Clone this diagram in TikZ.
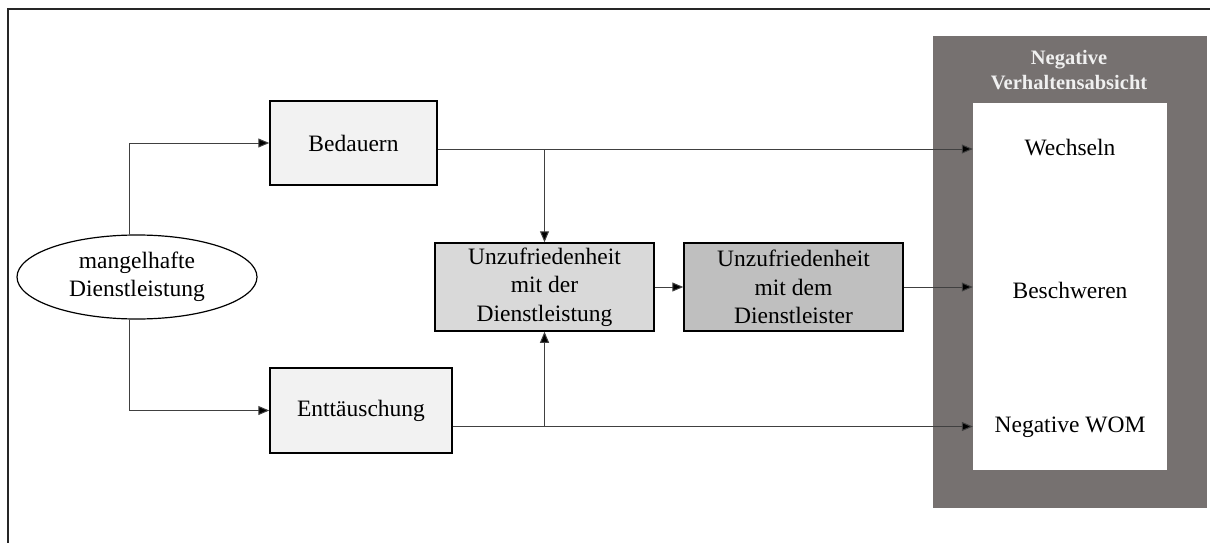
\documentclass[tikz,border=0pt]{standalone}
\usepackage{fontspec}
\setmainfont{Liberation Serif}
\usetikzlibrary{arrows.meta,shapes.geometric}
\definecolor{panelgrey}{HTML}{767170}
\definecolor{lightbox}{HTML}{F2F2F2}
\definecolor{midbox}{HTML}{D9D9D9}
\definecolor{darkbox}{HTML}{BFBFBF}
\definecolor{titlegrey}{HTML}{F0F0F0}
\definecolor{lineg}{HTML}{404040}
\tikzset{
  txt/.style={font=\fontsize{23.5}{28.3}\selectfont, align=center, inner sep=0pt},
  box/.style={txt, draw=black, line width=1.5pt, rectangle},
  conn/.style={draw=lineg, line width=1pt},
  arr/.style={conn, -{Triangle[length=11pt,width=9pt,fill=black]}},
}
\begin{document}
\begin{tikzpicture}[x=1pt,y=-1pt]
\useasboundingbox (0,0) rectangle (1210,543);
% outer frame (open on the right and bottom)
\draw[line width=2pt, draw=black!85] (1210,9) -- (8,9) -- (8,543);

% outcome panel
\node[rectangle, fill=panelgrey, minimum width=274pt, minimum height=472pt, inner sep=0pt] (panel) at (1070,272) {};
\node[rectangle, fill=white, minimum width=194pt, minimum height=367pt, inner sep=0pt] (inner) at (1070,286.5) {};
\node[txt, font=\fontsize{20.5}{24.4}\selectfont\bfseries, text=titlegrey] (title) at (1069,70) {Negative\\Verhaltensabsicht};
\node[txt] (wech) at (1070,148) {Wechseln};
\node[txt] (besch) at (1070,290) {Beschweren};
\node[txt] (wom) at (1070,427) {Negative WOM};

% causes and emotions
\node[txt, draw=black, line width=1.2pt, ellipse, minimum width=240pt, minimum height=84pt, fill=white] (ell) at (137,277) {mangelhafte\\Dienstleistung};
\node[box, fill=lightbox, minimum width=167pt, minimum height=84pt] (bed) at (353.5,143) {Bedauern};
\node[box, fill=lightbox, minimum width=182pt, minimum height=85pt] (ent) at (361,410.5) {Enttäuschung};
\node[box, fill=midbox, minimum width=219pt, minimum height=88pt] (u1) at (544.5,287) {Unzufriedenheit\\mit der\\Dienstleistung};
\node[box, fill=darkbox, minimum width=219pt, minimum height=88pt] (u2) at (793.5,287) {Unzufriedenheit\\mit dem\\Dienstleister};

% connectors
\draw[arr] ([xshift=-8pt]ell.north) |- (bed.west);
\draw[arr] ([xshift=-8pt]ell.south) |- (ent.west);
\draw[arr] ([yshift=-6pt]bed.east) coordinate (b0) -- (b0 -| inner.west);
\draw[arr] (b0 -| u1.north) -- (u1.north);
\draw[arr] ([yshift=-16pt]ent.east) coordinate (e0) -- (e0 -| inner.west);
\draw[arr] (e0 -| u1.south) -- (u1.south);
\draw[arr] (u1.east) -- (u2.west);
\draw[arr] (u2.east) -- (u2.east -| inner.west);
\end{tikzpicture}
\end{document}
